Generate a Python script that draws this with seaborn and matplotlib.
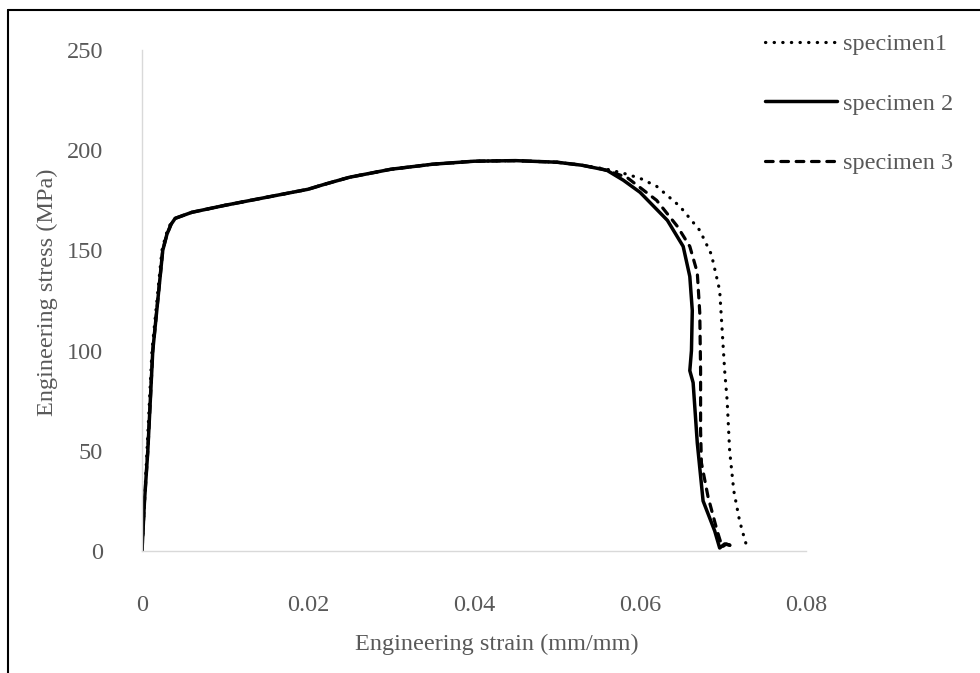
import matplotlib
matplotlib.use("Agg")
import matplotlib.pyplot as plt
import seaborn as sns
import pandas as pd
from matplotlib.lines import Line2D

# ---------------- data ----------------
series_names = ["specimen1", "specimen 2", "specimen 3"]

strain_1 = [0, 0.0003, 0.0006, 0.0009, 0.0012, 0.0018, 0.0024, 0.0029, 0.0034, 0.004, 0.006, 0.01,
            0.015, 0.02, 0.022, 0.025, 0.03, 0.035, 0.04, 0.045, 0.05, 0.053, 0.056, 0.058,
            0.06, 0.062, 0.0648, 0.0672, 0.0686, 0.0696, 0.0699, 0.0702, 0.0705, 0.0708,
            0.0713, 0.072, 0.0726, 0.073]
stress_1 = [0, 25, 50, 75, 100, 125, 150, 158, 163, 166, 169, 172.5,
            176.5, 180.5, 183, 186.5, 190.5, 193, 194.5, 194.8, 194, 192.5, 190.5, 188.5,
            186, 182, 172, 160, 148, 130, 110, 90, 75, 50,
            30, 15, 6, 0.5]

strain_2 = [0, 0.0003, 0.0007, 0.001, 0.0013, 0.0019, 0.0025, 0.003, 0.0035, 0.004, 0.006, 0.01,
            0.015, 0.02, 0.022, 0.025, 0.03, 0.035, 0.04, 0.045, 0.05, 0.053, 0.056, 0.058,
            0.06, 0.0633, 0.0652, 0.066, 0.0663, 0.0662, 0.066, 0.0664, 0.0669, 0.0676,
            0.069, 0.0696, 0.0702, 0.0708]
stress_2 = [0, 25, 50, 75, 100, 125, 150, 158, 163, 166, 169, 172.5,
            176.5, 180.5, 183, 186.5, 190.5, 193, 194.5, 194.8, 194, 192.5, 190, 185,
            179, 165, 152, 137, 120, 100, 90, 84, 54, 25,
            10, 1.5, 3.5, 3]

strain_3 = [0, 0.0003, 0.0007, 0.001, 0.0013, 0.0019, 0.0025, 0.003, 0.0035, 0.004, 0.006, 0.01,
            0.015, 0.02, 0.022, 0.025, 0.03, 0.035, 0.04, 0.045, 0.05, 0.053, 0.0555, 0.0584,
            0.062, 0.0645, 0.066, 0.0669, 0.0672, 0.0673, 0.0673, 0.0674, 0.0682, 0.0693,
            0.0699, 0.0704, 0.071]
stress_3 = [0, 25, 50, 75, 100, 125, 150, 158, 163, 166, 169, 172.5,
            176.5, 180.5, 183, 186.5, 190.5, 193, 194.5, 194.8, 194, 192.5, 190.5, 186.5,
            175, 162, 152, 139, 119, 90, 60, 44, 27, 10,
            2, 3.5, 2.5]

x_ticks = [0, 0.02, 0.04, 0.06, 0.08]
x_tick_labels = ["0", "0.02", "0.04", "0.06", "0.08"]
y_ticks = [0, 50, 100, 150, 200, 250]
y_tick_labels = ["0", "50", "100", "150", "200", "250"]

# ---------------- styling ----------------
sns.set_theme(style="white")
plt.rcParams["font.family"] = ["Liberation Serif", "DejaVu Serif"]
TXT = "#595959"
FS = 17.5

fig = plt.figure(figsize=(9.8, 6.73), dpi=100)
ax = fig.add_axes([142 / 980, 1 - 551 / 673, (806 - 142) / 980, (551 - 50) / 673])

styles = [
    dict(linestyle=(0, (0.1, 2.6)), dash_capstyle="round", linewidth=2.3),
    dict(linestyle="-", linewidth=2.5),
    dict(linestyle=(0, (2.4, 2.4)), dash_capstyle="round", linewidth=2.3),
]
all_x = [strain_1, strain_2, strain_3]
all_y = [stress_1, stress_2, stress_3]

handles = []
for name, xs, ys, st in zip(series_names, all_x, all_y, styles):
    df = pd.DataFrame({"strain": xs, "stress": ys})
    sns.lineplot(data=df, x="strain", y="stress", sort=False, estimator=None,
                 color="black", ax=ax, legend=False, **st)
    handles.append(Line2D([], [], color="black", **st))

ax.set_xlim(0, 0.08)
ax.set_ylim(0, 250)
ax.set_xticks(x_ticks)
ax.set_xticklabels(x_tick_labels)
ax.set_yticks(y_ticks)
ax.set_yticklabels(y_tick_labels)
ax.tick_params(axis="both", length=0, labelsize=FS, labelcolor=TXT)
ax.tick_params(axis="x", pad=32)
ax.tick_params(axis="y", pad=28)
for s in ["top", "right"]:
    ax.spines[s].set_visible(False)
for s in ["left", "bottom"]:
    ax.spines[s].set_color("#d9d9d9")
    ax.spines[s].set_linewidth(1.0)
ax.grid(False)

ax.set_xlabel("Engineering strain (mm/mm)", fontsize=FS, color=TXT)
ax.set_ylabel("Engineering stress (MPa)", fontsize=FS, color=TXT)
ax.xaxis.set_label_coords((497 - 142) / 664, (551 - 634) / 501)
ax.yaxis.set_label_coords((58 - 142) / 664, (551 - 292) / 501)

leg = fig.legend(handles, series_names, loc="upper left",
                 bbox_to_anchor=(765 / 980, 1 - 33 / 673), frameon=False,
                 fontsize=FS, handlelength=2.96, handletextpad=0.25,
                 labelspacing=1.55, borderaxespad=0, borderpad=0)
for t in leg.get_texts():
    t.set_color(TXT)

# outer frame (top and left edges)
fig.add_artist(Line2D([8 / 980, 8 / 980], [0, 1 - 10 / 673], transform=fig.transFigure,
                      color="black", linewidth=1.5))
fig.add_artist(Line2D([8 / 980, 1], [1 - 10 / 673, 1 - 10 / 673], transform=fig.transFigure,
                      color="black", linewidth=1.5))

fig.savefig("out.png", dpi=100)
